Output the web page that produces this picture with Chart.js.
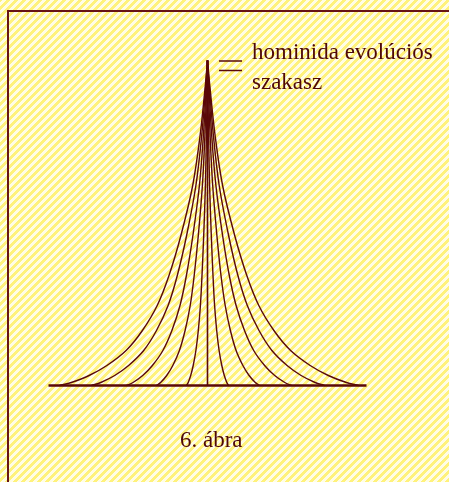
<!DOCTYPE html>
<html>
<head>
<meta charset="utf-8">
<script src="https://cdn.jsdelivr.net/npm/chart.js@4/dist/chart.umd.min.js"></script>
<style>
  html, body { margin: 0; padding: 0; overflow: hidden; }
  body {
    width: 449px; height: 482px;
    background: repeating-linear-gradient(-45deg, #fff27c 0px, #fff27c 2.9px, #fffde6 2.9px, #fffde6 5.66px);
  }
  #c { position: absolute; left: 0; top: 0; }
</style>
</head>
<body>
<canvas id="c" width="449" height="482"></canvas>
<script>
// Heights above the baseline (shared by every curve)
const heights = [0, 3, 10, 20, 35, 55, 80, 110, 150, 200, 250, 300, 325];

// Horizontal distance of each curve from the central axis, at each height
const left1  = [-148, -136.2, -118.4, -100.6, -81.4, -65.1, -50.3, -38.5, -26.6, -14.8, -7.4, -2.2, 0];
const left2  = [-116, -106.7, -92.8, -78.9, -63.8, -51.0, -39.4, -30.2, -20.9, -11.6, -5.8, -1.7, 0];
const left3  = [-81, -74.5, -64.8, -55.1, -44.6, -35.6, -27.5, -21.1, -14.6, -8.1, -4.1, -1.2, 0];
const left4  = [-51, -46.9, -40.8, -34.7, -28.1, -22.4, -17.3, -13.3, -9.2, -5.1, -2.6, -0.8, 0];
const left5  = [-21, -19.3, -16.8, -14.3, -11.6, -9.2, -7.1, -5.5, -3.8, -2.1, -1.1, -0.3, 0];
const right1 = [21, 19.3, 16.8, 14.3, 11.6, 9.2, 7.1, 5.5, 3.8, 2.1, 1.1, 0.3, 0];
const right2 = [52, 47.8, 41.6, 35.4, 28.6, 22.9, 17.7, 13.5, 9.4, 5.2, 2.6, 0.8, 0];
const right3 = [84, 77.3, 67.2, 57.1, 46.2, 37.0, 28.6, 21.8, 15.1, 8.4, 4.2, 1.3, 0];
const right4 = [117, 107.6, 93.6, 79.6, 64.4, 51.5, 39.8, 30.4, 21.1, 11.7, 5.9, 1.8, 0];
const right5 = [151, 138.9, 120.8, 102.7, 83.1, 66.4, 51.3, 39.3, 27.2, 15.1, 7.6, 2.3, 0];

// Central axis (hominid line) and ground line
const axisX = [0, 0];
const axisY = [0, 325.5];
const groundX = [-159, 159];
const groundY = [0, 0];

const legendLines = ["hominida evolúciós", "szakasz"];
const caption = "6. ábra";

const INK = "#5a0909";
const zip = (xs, ys) => xs.map((x, i) => ({ x: x, y: ys[i] }));

const curves = [left1, left2, left3, left4, left5, right1, right2, right3, right4, right5];
const datasets = curves.map(c => ({
  data: zip(c, heights),
  borderColor: INK,
  borderWidth: 1.4,
  pointRadius: 0,
  tension: 0.35,
  fill: false
}));
datasets.push({ data: zip(axisX, axisY), borderColor: INK, borderWidth: 1.6, pointRadius: 0, tension: 0 });
datasets.push({ data: zip(groundX, groundY), borderColor: INK, borderWidth: 2.6, pointRadius: 0, tension: 0 });

const decor = {
  id: 'decor',
  beforeDraw(chart) {
    const ctx = chart.ctx;
    ctx.save();
    ctx.strokeStyle = "#681515";
    ctx.lineWidth = 2;
    ctx.strokeRect(8, 11, 600, 600);
    ctx.restore();
  },
  afterDraw(chart) {
    const ctx = chart.ctx;
    ctx.save();
    // legend symbol (double line)
    ctx.strokeStyle = INK;
    ctx.lineWidth = 1.5;
    ctx.beginPath();
    ctx.moveTo(219, 61); ctx.lineTo(242, 61);
    ctx.moveTo(219, 70.5); ctx.lineTo(242, 70.5);
    ctx.stroke();
    ctx.fillStyle = "#4e0808";
    ctx.font = '23px "Liberation Serif", "DejaVu Serif", serif';
    ctx.textBaseline = 'alphabetic';
    ctx.textAlign = 'left';
    ctx.fillText(legendLines[0], 252, 59);
    ctx.fillText(legendLines[1], 252, 89);
    ctx.fillText(caption, 180, 447);
    ctx.restore();
  }
};

new Chart(document.getElementById('c'), {
  type: 'scatter',
  data: { datasets: datasets },
  options: {
    responsive: false,
    animation: false,
    devicePixelRatio: 1,
    showLine: true,
    layout: { padding: 0 },
    plugins: { legend: { display: false }, tooltip: { enabled: false }, title: { display: false } },
    scales: {
      x: { type: 'linear', min: -207.5, max: 241.5, display: false },
      y: { type: 'linear', min: -96.5, max: 385.5, display: false }
    }
  },
  plugins: [decor]
});
</script>
</body>
</html>
